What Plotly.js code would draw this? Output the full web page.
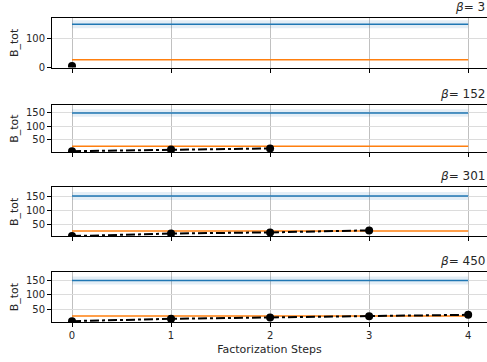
<!DOCTYPE html>
<html>
<head>
<meta charset="utf-8">
<script src="https://cdn.plot.ly/plotly-3.0.1.min.js"></script>
<style>html,body{margin:0;padding:0;background:#fff;}#chart{width:487px;height:362px;}</style>
</head>
<body>
<div id="chart"></div>
<script>
// Data
var betas = [3, 152, 301, 450];
var steps = [0, 1, 2, 3, 4];
var refLine = [150, 150, 150, 150, 150];
var refUpper = [164, 164, 164, 164, 164];
var refLower = [136, 136, 136, 136, 136];
var orangeLevels = [27, 26, 28, 27];
var btot_beta3 = [5];
var btot_beta152 = [8, 14, 18];
var btot_beta301 = [10, 19, 23, 30];
var btot_beta450 = [9, 17, 22, 26, 31];
var btotSeries = [btot_beta3, btot_beta152, btot_beta301, btot_beta450];
var xTickLabels = ['0', '1', '2', '3', '4'];
var yTicksFirst = [0, 100];
var yTicksOther = [50, 100, 150];

var yRanges = [[0, 172], [4.6, 178.6], [9.4, 180.4], [6, 179]];
var domains = [[0.837, 1.0], [0.559, 0.713], [0.282, 0.443], [0.0, 0.164]];

var FONT = 'DejaVu Sans, Arial, sans-serif';
var TXT = '#262626';
var traces = [];
var layout = {
  width: 487, height: 362,
  margin: {l: 52, r: 0, t: 18, b: 40},
  paper_bgcolor: '#fff', plot_bgcolor: '#fff',
  showlegend: false,
  font: {family: FONT, size: 10, color: TXT},
  annotations: []
};

for (var i = 0; i < 4; i++) {
  var xa = i === 0 ? 'x' : 'x' + (i + 1);
  var ya = i === 0 ? 'y' : 'y' + (i + 1);
  var xKey = i === 0 ? 'xaxis' : 'xaxis' + (i + 1);
  var yKey = i === 0 ? 'yaxis' : 'yaxis' + (i + 1);
  // band
  traces.push({x: steps, y: refUpper, xaxis: xa, yaxis: ya, mode: 'lines',
    line: {width: 0, color: 'rgba(31,119,180,0)'}, hoverinfo: 'skip'});
  traces.push({x: steps, y: refLower, xaxis: xa, yaxis: ya, mode: 'lines', fill: 'tonexty',
    fillcolor: 'rgba(31,119,180,0.12)', line: {width: 0, color: 'rgba(31,119,180,0)'}, hoverinfo: 'skip'});
  traces.push({x: steps, y: refLine, xaxis: xa, yaxis: ya, mode: 'lines',
    line: {width: 1.5, color: '#1f77b4'}});
  traces.push({x: steps, y: steps.map(function(){ return orangeLevels[i]; }), xaxis: xa, yaxis: ya, mode: 'lines',
    line: {width: 1.5, color: '#ff7f0e'}});
  var s = btotSeries[i];
  traces.push({x: steps.slice(0, s.length), y: s, xaxis: xa, yaxis: ya, mode: 'lines+markers',
    line: {width: 2, color: '#000', dash: 'dashdot'}, marker: {size: 8, color: '#000'}});

  layout[xKey] = {
    domain: [0, 1], anchor: ya, range: [-0.202, 4.19],
    tickvals: steps, ticktext: xTickLabels, showticklabels: i === 3,
    ticks: 'outside', ticklen: 4, tickcolor: '#000', tickwidth: 1,
    showgrid: true, gridcolor: '#b0b0b0', gridwidth: 0.8,
    showline: true, linecolor: '#000', linewidth: 1, mirror: true,
    zeroline: false, tickfont: {family: FONT, size: 10, color: TXT}
  };
  if (i === 3) {
    layout[xKey].title = {text: 'Factorization Steps', font: {family: FONT, size: 11, color: TXT}, standoff: 5};
  }
  layout[yKey] = {
    domain: domains[i], anchor: xa, range: yRanges[i],
    tickvals: i === 0 ? yTicksFirst : yTicksOther,
    ticks: 'outside', ticklen: 4, tickcolor: '#000', tickwidth: 1,
    showgrid: true, gridcolor: '#dcdcdc', gridwidth: 1,
    showline: true, linecolor: '#000', linewidth: 1, mirror: true,
    zeroline: false, tickfont: {family: FONT, size: 10, color: TXT},
    title: {text: 'B_tot', font: {family: FONT, size: 11, color: TXT}, standoff: 5}
  };
  layout.annotations.push({
    xref: 'paper', yref: 'paper', x: 1, y: domains[i][1], xanchor: 'right', yanchor: 'bottom',
    yshift: 2, showarrow: false, text: '<i>β</i>= ' + betas[i],
    font: {family: FONT, size: 12, color: TXT}
  });
}

Plotly.newPlot('chart', traces, layout, {staticPlot: true, displayModeBar: false});
</script>
</body>
</html>
